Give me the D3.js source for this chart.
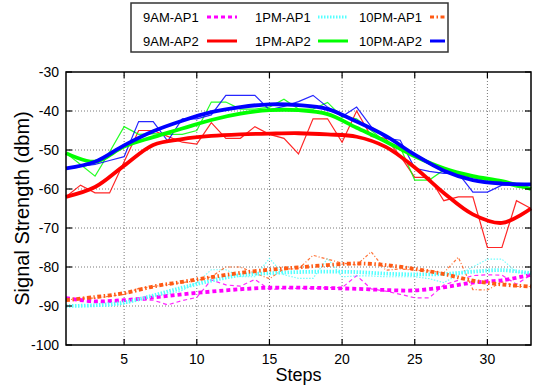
<!DOCTYPE html>
<html><head><meta charset="utf-8">
<script src="https://cdn.jsdelivr.net/npm/d3@7/dist/d3.min.js"></script>
<style>body{margin:0;background:#fff}svg{display:block}text{font-family:"Liberation Sans",Arial,sans-serif}</style></head>
<body><svg id="c" width="537" height="390"></svg>
<script>
// ---- data ----
const steps = d3.range(1, 34);
const smoothSteps = [1,3,5,7,9,11,13,15,17,19,21,23,25,27,29,31,33];
const xTicks = [5,10,15,20,25,30];
const yTicks = [-30,-40,-50,-60,-70,-80,-90,-100];
const seriesNames = ["9AM-AP1","1PM-AP1","10PM-AP1","9AM-AP2","1PM-AP2","10PM-AP2"];

// raw readings per step
const am9ap1Raw  = [-88,-88.5,-89,-89,-88.5,-88.5,-88.5,-89.7,-88.6,-87.8,-83.3,-84.6,-84.9,-83.2,-85.8,-85.5,-85.5,-85.5,-85.3,-85.3,-82.2,-85.6,-86.2,-87,-87.9,-87.9,-84.6,-83.4,-82.2,-82,-82.1,-84.4,-82];
const pm1ap1Raw  = [-90,-90,-90,-90,-89.5,-88.5,-87.5,-87,-86,-84,-80.7,-80.7,-82.5,-82.5,-77.8,-82,-82.9,-82.9,-77.8,-82.5,-82.3,-82.3,-82.5,-82.5,-82.5,-83,-84,-82,-80,-78,-78,-81.3,-81.6];
const pm10ap1Raw = [-88.5,-88,-88,-87.5,-87,-85.5,-85,-84.5,-84,-83.5,-82.5,-80,-80,-81.6,-83,-80.5,-80.5,-77,-78,-79,-79.5,-76.1,-80.8,-80.5,-80.8,-81,-81.5,-77.5,-85.8,-85.9,-83.8,-85,-85];
const am9ap2Raw  = [-62,-59,-61,-61,-53,-45,-45,-46.5,-48,-48.5,-43,-47,-47,-44,-46,-47,-51,-42,-42,-48,-40,-46.5,-47,-51.5,-57,-57,-63,-62,-62,-75,-75,-63,-65];
const pm1ap2Raw  = [-50.8,-53.7,-56.7,-50.5,-44,-46,-45.8,-46,-46,-45,-37.7,-37.7,-39.5,-39.5,-39,-37,-39.5,-39.5,-37.8,-41.5,-42,-45,-47.9,-49.3,-57.7,-57.7,-55.1,-56,-57,-58,-58.5,-59.5,-60];
const pm10ap2Raw = [-54.7,-54.2,-53.7,-52.7,-51.7,-42.7,-42.7,-47.7,-42,-42,-41,-36,-36,-36,-39.7,-38.8,-37.6,-36,-39,-41.4,-39,-44,-47,-47.5,-54.7,-55.5,-56,-56,-60.8,-60.8,-59,-59,-59];

// smoothed trend (read at odd steps)
const am9ap1Fit  = [-88,-88.8,-88.5,-87.8,-87,-86.3,-85.7,-85.3,-85.3,-85.4,-85.6,-85.9,-86,-85.2,-84,-83.4,-82];
const pm1ap1Fit  = [-90,-89.8,-89.1,-87.3,-85.3,-83.5,-82.1,-81.6,-81.3,-81.2,-81.3,-81.7,-81.9,-81.8,-81.2,-80.8,-81.6];
const pm10ap1Fit = [-88.5,-87.7,-86.7,-85,-83.8,-82.6,-81.5,-80.7,-80.1,-79.5,-79.1,-79.5,-80.5,-81.8,-83.5,-84.5,-85];
const am9ap2Fit  = [-62,-59.5,-54,-48.7,-47.2,-46.4,-46,-45.8,-45.7,-46,-46.6,-49.2,-54.5,-61,-66.5,-68.7,-65];
const pm1ap2Fit  = [-50.8,-53,-49.1,-46.7,-44.5,-42.3,-40.7,-39.8,-39.8,-40.8,-44.3,-47.8,-51.6,-54.7,-56.7,-58,-60];
const pm10ap2Fit = [-54.7,-53,-48.8,-45.2,-42.5,-40.3,-39,-38.3,-38.5,-39.5,-42.7,-46.4,-51.2,-55.3,-57.7,-58.6,-58.8];

// ---- chart ----
const m = {l:66, r:531, t:72, b:345};
const svg = d3.select("#c");
const x = d3.scaleLinear().domain([1,33]).range([m.l, m.r]);
const y = d3.scaleLinear().domain([-100,-30]).range([m.b, m.t]);

const styles = [
  {name:seriesNames[0], raw:am9ap1Raw,  fit:am9ap1Fit,  color:"#ff00ff", dash:"4,3",     dashThin:"4,3"},
  {name:seriesNames[1], raw:pm1ap1Raw,  fit:pm1ap1Fit,  color:"#55ffff", dash:"1.5,1.5", dashThin:"1.5,1.5"},
  {name:seriesNames[2], raw:pm10ap1Raw, fit:pm10ap1Fit, color:"#ff5a14", dash:"4,2.5,1.5,2.5", dashThin:"3,2,1,2"},
  {name:seriesNames[3], raw:am9ap2Raw,  fit:am9ap2Fit,  color:"#ff0000", dash:null, dashThin:null},
  {name:seriesNames[4], raw:pm1ap2Raw,  fit:pm1ap2Fit,  color:"#00ff00", dash:null, dashThin:null},
  {name:seriesNames[5], raw:pm10ap2Raw, fit:pm10ap2Fit, color:"#0000ff", dash:null, dashThin:null}
];

// grid
const g = svg.append("g");
g.selectAll(".gx").data(xTicks).join("line")
  .attr("x1", d=>x(d)).attr("x2", d=>x(d)).attr("y1", m.t).attr("y2", m.b)
  .attr("stroke","#555").attr("stroke-width",0.8).attr("stroke-dasharray","1,2");
g.selectAll(".gy").data(yTicks.filter(d=>d>-100 && d<-30)).join("line")
  .attr("x1", m.l).attr("x2", m.r).attr("y1", d=>y(d)).attr("y2", d=>y(d))
  .attr("stroke","#555").attr("stroke-width",0.8).attr("stroke-dasharray","1,2");

// lines
const rawLine = d3.line().x((d,i)=>x(steps[i])).y(d=>y(d));
const fitLine = d3.line().x((d,i)=>x(smoothSteps[i])).y(d=>y(d)).curve(d3.curveCatmullRom.alpha(0.5));
const plot = svg.append("g");
styles.forEach(s=>{
  plot.append("path").attr("d", rawLine(s.raw)).attr("fill","none")
    .attr("stroke", s.color).attr("stroke-width", 1.2).attr("opacity",0.85)
    .attr("stroke-dasharray", s.dashThin);
});
styles.forEach(s=>{
  plot.append("path").attr("d", fitLine(s.fit)).attr("fill","none")
    .attr("stroke", s.color).attr("stroke-width", 3.8)
    .attr("stroke-dasharray", s.dash);
});

// frame and ticks
svg.append("rect").attr("x", m.l).attr("y", m.t).attr("width", m.r-m.l).attr("height", m.b-m.t)
  .attr("fill","none").attr("stroke","#000").attr("stroke-width",1.5);
const ax = svg.append("g");
yTicks.forEach(t=>{
  ax.append("line").attr("x1",m.l).attr("x2",m.l+6).attr("y1",y(t)).attr("y2",y(t)).attr("stroke","#000").attr("stroke-width",1.2);
  ax.append("line").attr("x1",m.r).attr("x2",m.r-6).attr("y1",y(t)).attr("y2",y(t)).attr("stroke","#000").attr("stroke-width",1.2);
  ax.append("text").attr("x", m.l-7).attr("y", y(t)+5).attr("text-anchor","end").attr("font-size",14).text(t);
});
xTicks.forEach(t=>{
  ax.append("line").attr("x1",x(t)).attr("x2",x(t)).attr("y1",m.b).attr("y2",m.b-6).attr("stroke","#000").attr("stroke-width",1.2);
  ax.append("line").attr("x1",x(t)).attr("x2",x(t)).attr("y1",m.t).attr("y2",m.t+6).attr("stroke","#000").attr("stroke-width",1.2);
  ax.append("text").attr("x", x(t)).attr("y", m.b+19).attr("text-anchor","middle").attr("font-size",14).text(t);
});
svg.append("text").attr("x", (m.l+m.r)/2).attr("y", 381).attr("text-anchor","middle").attr("font-size",18).text("Steps");
svg.append("text").attr("transform", `translate(29,${(m.t+m.b)/2}) rotate(-90)`).attr("text-anchor","middle").attr("font-size",20).text("Signal Strength (dbm)");

// legend
const lg = svg.append("g");
lg.append("rect").attr("x",131).attr("y",3).attr("width",317).attr("height",49)
  .attr("fill","#fff").attr("stroke","#333").attr("stroke-width",1.5);
const colX = [143, 255, 359];
const sampX = [[207,237],[318,348],[430,445]];
styles.forEach((s,i)=>{
  const col = i%3, row = Math.floor(i/3);
  const yy = row ? 41 : 17;
  lg.append("text").attr("x", colX[col]).attr("y", yy+5).attr("font-size",13).text(s.name);
  lg.append("line").attr("x1", sampX[col][0]).attr("x2", sampX[col][1]).attr("y1", yy).attr("y2", yy)
    .attr("stroke", s.color).attr("stroke-width", 3).attr("stroke-dasharray", s.dash);
});
</script></body></html>
